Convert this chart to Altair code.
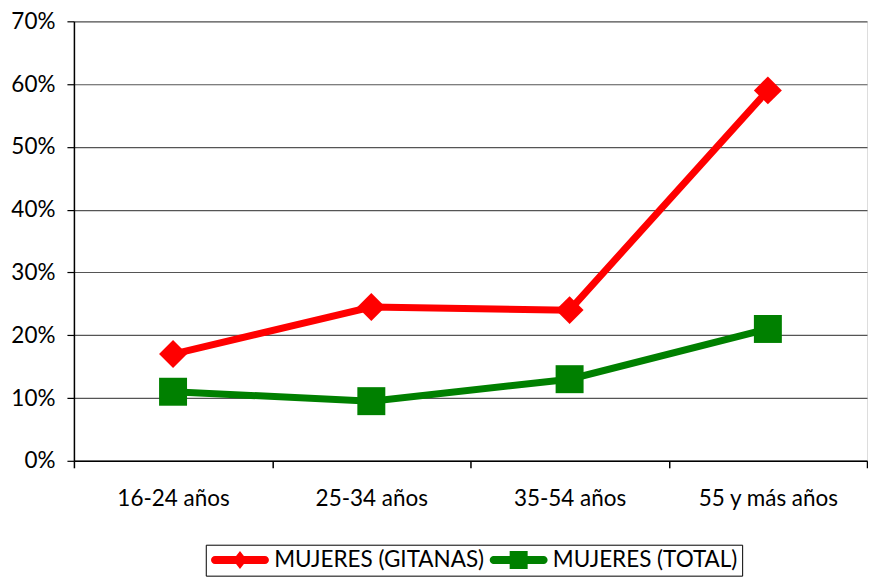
import altair as alt
import pandas as pd

categories = ["16-24 años", "25-34 años", "35-54 años", "55 y más años"]
series_names = ["MUJERES (GITANAS)", "MUJERES (TOTAL)"]
gitanas = [0.17, 0.245, 0.24, 0.59]
total = [0.11, 0.095, 0.13, 0.21]
colors = ["#FF0000", "#008000"]
shapes = ["diamond", "square"]
y_ticks = [0, 0.1, 0.2, 0.3, 0.4, 0.5, 0.6, 0.7]

rows = []
for name, vals in zip(series_names, [gitanas, total]):
    for cat, v in zip(categories, vals):
        rows.append({"edad": cat, "serie": name, "valor": v})
df = pd.DataFrame(rows)

FONT = "Lato"
FS = 22.5

# legend symbols: thick line with marker (units of 10px, symbolSize=400)
path_diamond = ("M-0.6,-0.4 L1.51,-0.4 L1.9,-0.9 L2.29,-0.4 L4.4,-0.4 "
                "A0.4,0.4 0 0 1 4.4,0.4 L2.29,0.4 L1.9,0.9 L1.51,0.4 L-0.6,0.4 "
                "A0.4,0.4 0 0 1 -0.6,-0.4 Z")
path_square = ("M-0.6,-0.4 L1,-0.4 L1,-0.9 L2.8,-0.9 L2.8,-0.4 L4.4,-0.4 "
               "A0.4,0.4 0 0 1 4.4,0.4 L2.8,0.4 L2.8,0.9 L1,0.9 L1,0.4 L-0.6,0.4 "
               "A0.4,0.4 0 0 1 -0.6,-0.4 Z")

legend = alt.Legend(
    title=None,
    orient="none",
    legendX=132,
    legendY=524,
    direction="horizontal",
    strokeColor="black",
    padding=4,
    symbolSize=400,
    symbolStrokeWidth=0,
    symbolOpacity=1,
    labelFont=FONT,
    labelFontSize=FS,
    labelColor="black",
    labelLimit=0,
    labelOffset=42,
    columnPadding=4,
)

x = alt.X(
    "edad:N", sort=categories, title=None, bandPosition=0.5,
    scale=alt.Scale(type="band", paddingInner=0, paddingOuter=0),
    axis=alt.Axis(labelAngle=0, tickBand="extent", grid=False, domainColor="black",
                  domainWidth=1.5, tickColor="black", tickWidth=1.5, tickSize=7,
                  labelFont=FONT, labelFontSize=FS, labelColor="black",
                  labelPadding=20),
)
y = alt.Y(
    "valor:Q", title=None,
    scale=alt.Scale(domain=[0, 0.7], nice=False),
    axis=alt.Axis(values=y_ticks, format=".0%", grid=True, gridColor="#555555",
                  gridWidth=1.2, domainColor="black", domainWidth=1.5,
                  tickColor="black", tickWidth=1.2, tickSize=7,
                  labelFont=FONT, labelFontSize=FS, labelColor="black",
                  labelPadding=12),
)

base = alt.Chart(df).encode(x=x, y=y)

# invisible layer that only carries the legend
legend_layer = base.mark_point(filled=True, opacity=0).encode(
    color=alt.Color("serie:N", sort=series_names,
                    scale=alt.Scale(domain=series_names, range=colors), legend=legend),
    shape=alt.Shape("serie:N", sort=series_names,
                    scale=alt.Scale(domain=series_names, range=[path_diamond, path_square]),
                    legend=legend),
)

layers = [legend_layer]
for name, col in zip(series_names, colors):
    sub = base.transform_filter(alt.datum.serie == name)
    layers.append(sub.mark_line(strokeWidth=7, color=col))
for name, col, shp in zip(series_names, colors, shapes):
    sub = base.transform_filter(alt.datum.serie == name)
    layers.append(sub.mark_point(filled=True, size=784, opacity=1, color=col, shape=shp))

chart = alt.layer(*layers).properties(
    width=794, height=440,
    padding={"left": 2, "top": 2, "right": 0, "bottom": 0},
).configure_view(stroke=None).configure(background="white")

chart.save("out.html", embed_options={"renderer": "svg", "actions": False})
